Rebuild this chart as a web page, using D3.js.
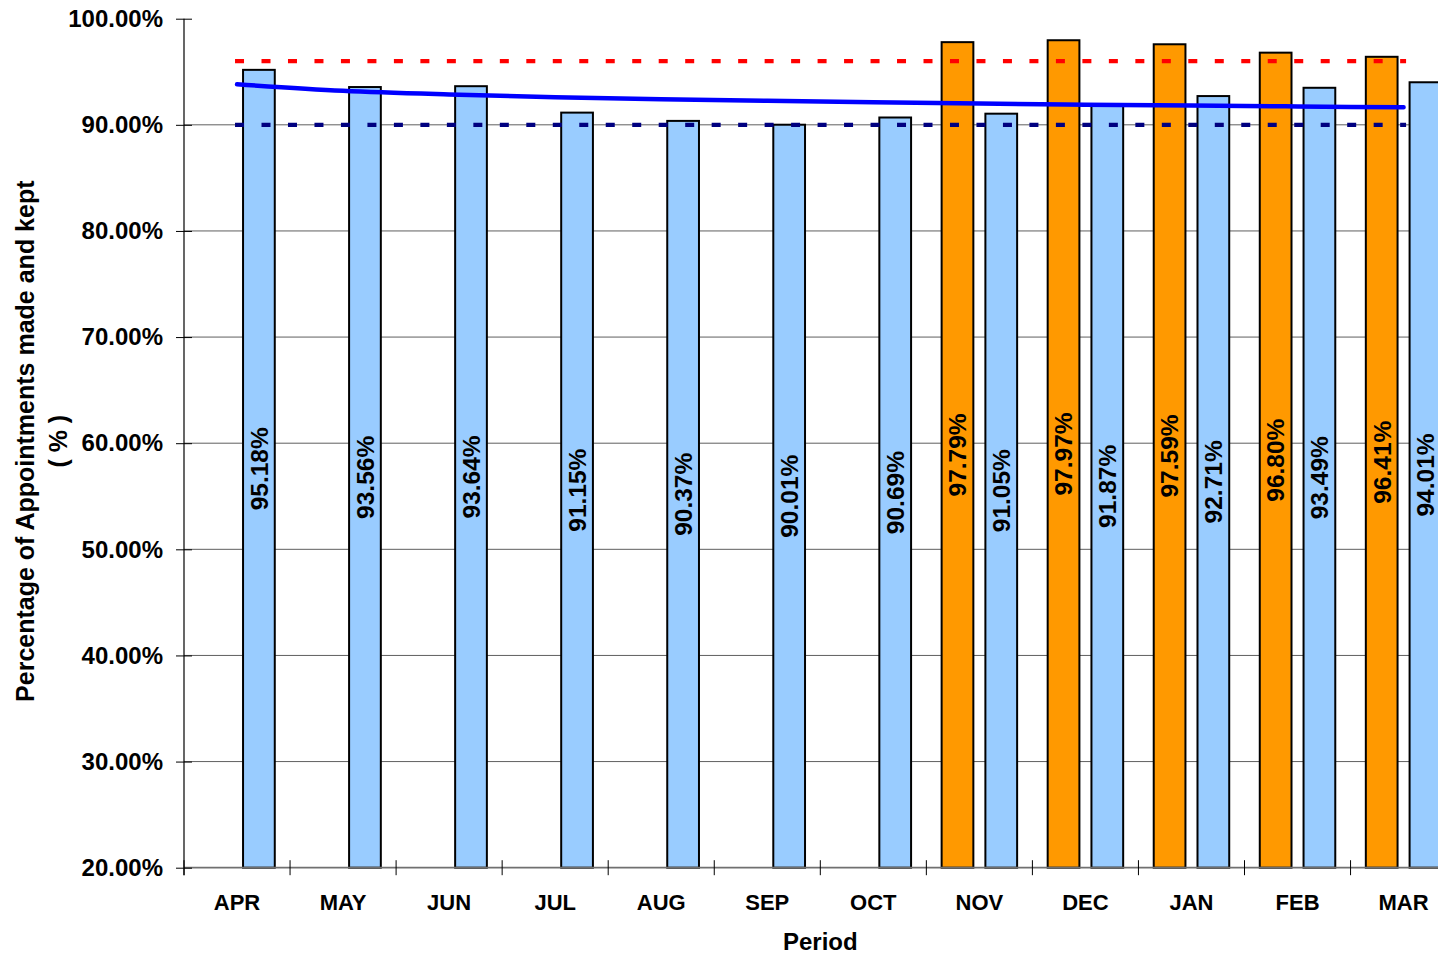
<!DOCTYPE html>
<html>
<head>
<meta charset="utf-8">
<script src="https://cdn.jsdelivr.net/npm/d3@7"></script>
<style>
  html, body { margin: 0; padding: 0; background: #fff; }
  svg { display: block; }
  text { font-family: "Liberation Sans", Arial, Helvetica, sans-serif; font-weight: bold; fill: #000; }
</style>
</head>
<body>
<svg id="chart" width="1438" height="955"></svg>
<script>
// ---- data ----
const months = ["APR","MAY","JUN","JUL","AUG","SEP","OCT","NOV","DEC","JAN","FEB","MAR"];
const orangeValues = [null,null,null,null,null,null,null,97.79,97.97,97.59,96.80,96.41];
const blueValues = [95.18,93.56,93.64,91.15,90.37,90.01,90.69,91.05,91.87,92.71,93.49,94.01];
const trendValues = [93.82,93.21,92.86,92.61,92.42,92.26,92.12,92.00,91.90,91.81,91.73,91.65];
const targetHigh = 96;
const targetLow = 90;
const yTicks = [20,30,40,50,60,70,80,90,100];
const gridTicks = [30,40,50,60,70,80,90];

(function () {
// ---- layout ----
const svg = d3.select("#chart");
const plotLeft = 184, plotTop = 18.7, plotBottom = 867.7, bandW = 106.05;
const plotRight = plotLeft + bandW * months.length;

const y = d3.scaleLinear().domain([20, 100]).range([plotBottom, plotTop]);
const x = d3.scaleBand().domain(months).range([plotLeft, plotRight]).padding(0);
const inner = d3.scaleBand().domain(["orange","blue"]).range([0, x.bandwidth()])
  .paddingInner(0.275).paddingOuter(0.349);
const cx = m => x(m) + x.bandwidth() / 2;

// gridlines
svg.append("g").selectAll("line").data(gridTicks).join("line")
  .attr("x1", plotLeft).attr("x2", 1438)
  .attr("y1", d => y(d)).attr("y2", d => y(d))
  .attr("stroke", "#5f5f5f").attr("stroke-width", 1);

// bars
const barData = [];
months.forEach((m, i) => {
  if (orangeValues[i] != null) barData.push({ m, key: "orange", v: orangeValues[i] });
  if (blueValues[i] != null) barData.push({ m, key: "blue", v: blueValues[i] });
});
const colors = { orange: "#FF9900", blue: "#99CCFF" };

svg.append("g").selectAll("rect").data(barData).join("rect")
  .attr("x", d => x(d.m) + inner(d.key))
  .attr("width", inner.bandwidth())
  .attr("y", d => y(d.v))
  .attr("height", d => y(20) - y(d.v))
  .attr("fill", d => colors[d.key])
  .attr("stroke", "#000").attr("stroke-width", 2);

// data labels
svg.append("g").selectAll("text").data(barData).join("text")
  .attr("transform", d => {
    const bx = x(d.m) + inner(d.key) + inner.bandwidth() / 2;
    const by = (y(d.v) + y(20)) / 2;
    return `translate(${bx},${by}) rotate(-90)`;
  })
  .attr("text-anchor", "middle")
  .attr("dy", "0.36em")
  .style("font-size", "24.5px")
  .text(d => d.v.toFixed(2) + "%");

// target dashed lines
const x0 = cx(months[0]) - 2, x1 = cx(months[months.length - 1]) + 2.5;
[[targetHigh, "#FF0000"], [targetLow, "#000080"]].forEach(([v, c]) => {
  svg.append("line")
    .attr("x1", x0).attr("x2", x1)
    .attr("y1", y(v)).attr("y2", y(v))
    .attr("stroke", c).attr("stroke-width", 4.3)
    .attr("stroke-dasharray", "9,17.48");
});

// trend line
const line = d3.line().x((d, i) => cx(months[i])).y(d => y(d)).curve(d3.curveMonotoneX);
svg.append("path").datum(trendValues)
  .attr("d", line)
  .attr("fill", "none")
  .attr("stroke", "#0000FF").attr("stroke-width", 4.5)
  .attr("stroke-linecap", "round");

// x axis line
svg.append("line")
  .attr("x1", plotLeft).attr("x2", 1438)
  .attr("y1", y(20)).attr("y2", y(20))
  .attr("stroke", "#707070").attr("stroke-width", 1.8);

// x ticks (cross) at band boundaries
const boundaries = months.map(m => x(m)).concat([plotRight]);
svg.append("g").selectAll("line").data(boundaries).join("line")
  .attr("x1", d => d).attr("x2", d => d)
  .attr("y1", y(20) - 7.5).attr("y2", y(20) + 7.5)
  .attr("stroke", "#000").attr("stroke-width", 1);

// x labels
svg.append("g").selectAll("text").data(months).join("text")
  .attr("x", d => cx(d)).attr("y", 910)
  .attr("text-anchor", "middle")
  .style("font-size", "22px")
  .text(d => d);

// y axis
const yAxis = d3.axisLeft(y).tickValues(yTicks)
  .tickFormat(d => d.toFixed(2) + "%")
  .tickSize(8).tickPadding(13);
const gy = svg.append("g").attr("transform", `translate(${plotLeft},0)`).call(yAxis);
gy.select(".domain").remove();
gy.selectAll(".tick line").attr("x1", 8).attr("stroke", "#000");
gy.selectAll(".tick text")
  .style("font-size", "24px")
  .style("font-family", '"Liberation Sans", Arial, sans-serif')
  .style("font-weight", "bold")
  .attr("fill", "#000");
svg.append("line")
  .attr("x1", plotLeft).attr("x2", plotLeft)
  .attr("y1", plotTop).attr("y2", y(20) + 7.5)
  .attr("stroke", "#000").attr("stroke-width", 1.2);

// axis titles
const titleCy = (plotTop + plotBottom) / 2 - 2;
svg.append("text")
  .attr("transform", `translate(33.5,${titleCy}) rotate(-90)`)
  .attr("text-anchor", "middle")
  .style("font-size", "25px")
  .text("Percentage of Appointments made and kept");
svg.append("text")
  .attr("transform", `translate(66.5,${titleCy}) rotate(-90)`)
  .attr("text-anchor", "middle")
  .style("font-size", "25px")
  .style("white-space", "pre")
  .text("( % )");
svg.append("text")
  .attr("x", (plotLeft + plotRight) / 2).attr("y", 950)
  .attr("text-anchor", "middle")
  .style("font-size", "24px")
  .text("Period");
})();
</script>
</body>
</html>
